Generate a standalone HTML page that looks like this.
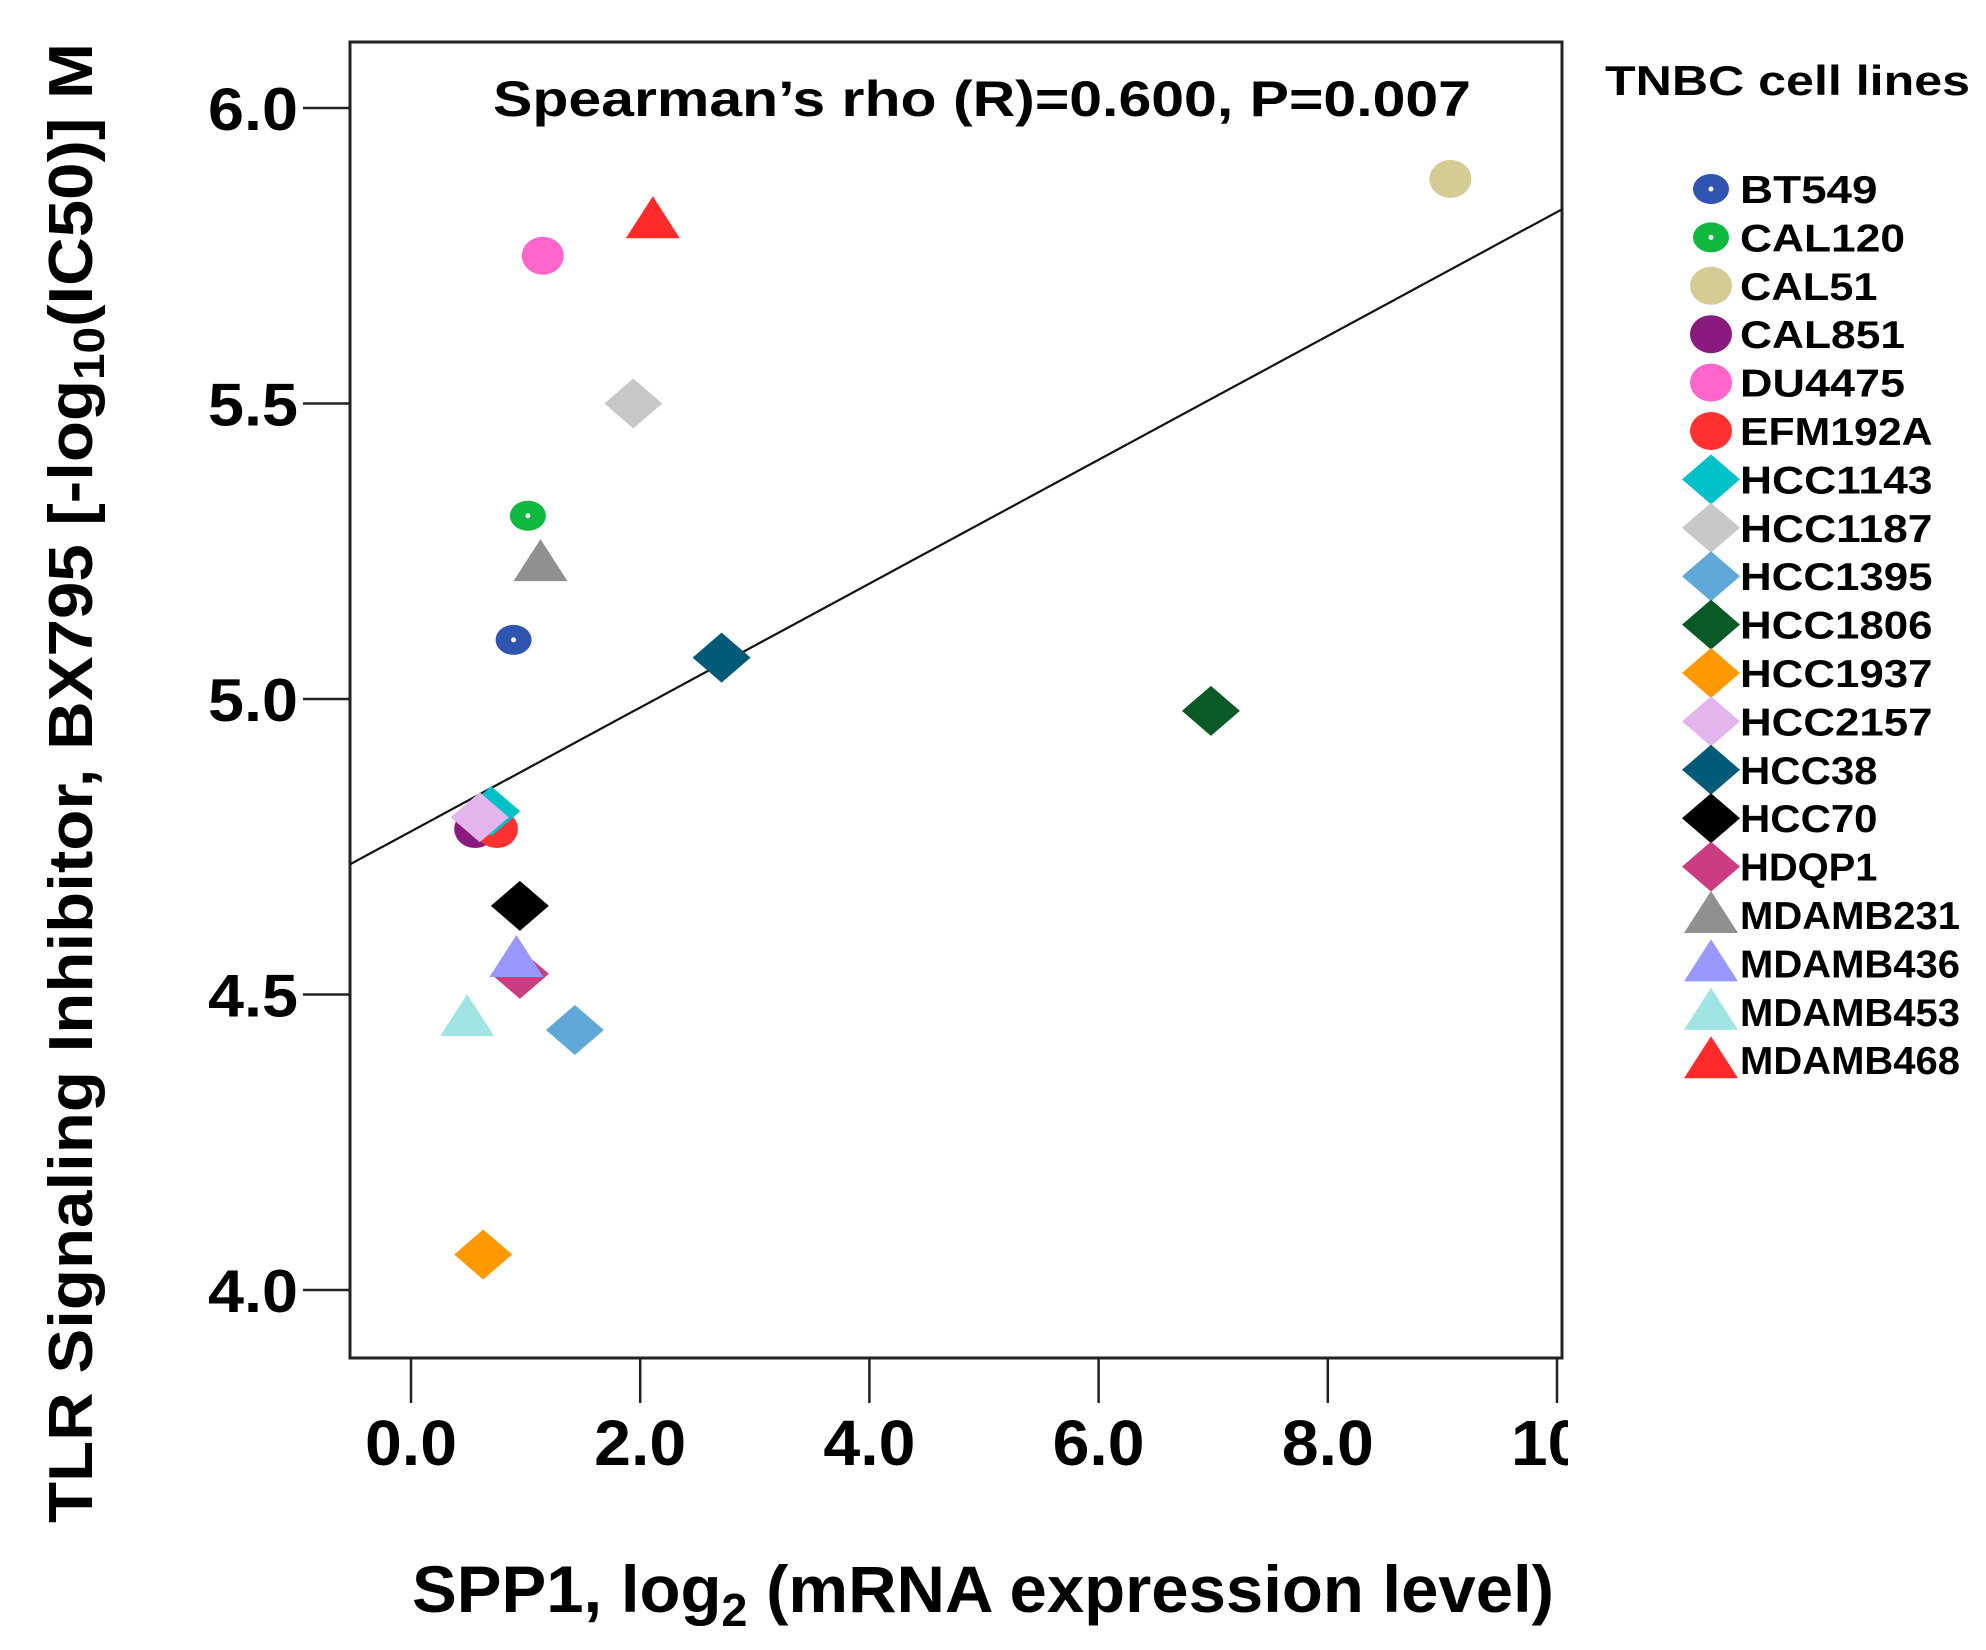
<!DOCTYPE html>
<html><head><meta charset="utf-8"><style>
html,body{margin:0;padding:0;background:#fff;}
svg{display:block;font-family:"Liberation Sans",Arial,sans-serif;font-weight:bold;}
</style></head><body>
<svg id="chart" width="1986" height="1650" viewBox="0 0 1986 1650" xmlns="http://www.w3.org/2000/svg">
<defs><clipPath id="clipR"><rect x="0" y="0" width="1568" height="1650"/></clipPath></defs>
<rect x="0" y="0" width="1986" height="1650" fill="#fff"/>
<g id="plot"></g>
<text transform="translate(92,783) rotate(-90)" text-anchor="middle" font-size="62" textLength="1480" lengthAdjust="spacingAndGlyphs">TLR Signaling Inhibitor, BX795 [-log<tspan font-size="44" dy="12">10</tspan><tspan dy="-12">(IC50)] M</tspan></text>
<text x="412" y="1612" font-size="66" textLength="1142" lengthAdjust="spacingAndGlyphs">SPP1, log<tspan font-size="46" dy="14">2</tspan><tspan dy="-14"> (mRNA expression level)</tspan></text>
<text x="982" y="116" text-anchor="middle" font-size="50" textLength="978" lengthAdjust="spacingAndGlyphs">Spearman’s rho (R)=0.600, P=0.007</text>
<text x="1605" y="95" font-size="42" textLength="365" lengthAdjust="spacingAndGlyphs">TNBC cell lines</text>
<g id="legend"></g>
</svg>
<script>
const names=["BT549","CAL120","CAL51","CAL851","DU4475","EFM192A","HCC1143","HCC1187","HCC1395","HCC1806","HCC1937","HCC2157","HCC38","HCC70","HDQP1","MDAMB231","MDAMB436","MDAMB453","MDAMB468"];
const xVals=[0.895,1.02,9.07,0.56,1.15,0.75,0.70,1.94,1.43,6.98,0.63,0.60,2.71,0.95,0.95,1.13,0.92,0.49,2.11];
const yVals=[5.10,5.31,5.88,4.78,5.75,4.78,4.81,5.50,4.44,4.98,4.06,4.80,5.07,4.65,4.535,5.23,4.56,4.46,5.81];
const shapes=["dot","dot","circle","circle","circle","circle","diamond","diamond","diamond","diamond","diamond","diamond","diamond","diamond","diamond","triangle","triangle","triangle","triangle"];
const colors=["#2f55b0","#10b840","#d4cc94","#8b1a7e","#ff66cc","#ff3030","#00c0c8","#c8c8c8","#60a8d8","#0a5a28","#ff9900","#e4b4ec","#005a78","#000000","#cc3c80","#909090","#9898ff","#a0e4e4","#ff2a2a"];
const xTicks=[0,2,4,6,8,10];
const xTickLabels=["0.0","2.0","4.0","6.0","8.0","10.0"];
const yTicks=[4.0,4.5,5.0,5.5,6.0];
const yTickLabels=["4.0","4.5","5.0","5.5","6.0"];
const fitIntercept=4.776, fitSlope=0.1048;

const NS="http://www.w3.org/2000/svg";
const L=350,R=1562,T=42,B=1358;
const sx=v=>411+v*114.6;
const sy=v=>108+(6-v)*591;
const plot=document.getElementById('plot');
function mk(tag,attrs,parent){const e=document.createElementNS(NS,tag);for(const k in attrs)e.setAttribute(k,attrs[k]);parent.appendChild(e);return e;}

const frame=mk('rect',{x:L,y:T,width:R-L,height:B-T,fill:'none',stroke:'#222','stroke-width':3},plot);



yTicks.forEach((t,i)=>{
  const y=sy(t);
  const ln=mk('line',{x1:303,x2:L,y1:y,y2:y,stroke:'#222','stroke-width':2.5},plot);
  
  
  const tx=mk('text',{x:298,y:y+22,'text-anchor':'end','font-size':60,textLength:90,lengthAdjust:'spacingAndGlyphs'},plot);
  tx.textContent=yTickLabels[i];
  
  
});
const xg=mk('g',{'clip-path':'url(#clipR)'},plot);
xTicks.forEach((t,i)=>{
  const x=sx(t);
  const ln=mk('line',{x1:x,x2:x,y1:B,y2:1403,stroke:'#222','stroke-width':2.5},plot);
  
  
  const tx=mk('text',{x:x-46,y:1465,'font-size':64,textLength:i==5?128:92,lengthAdjust:'spacingAndGlyphs'},xg);
  tx.textContent=xTickLabels[i];
  
  
});
const x0=-0.53,x1=10.05;
const fit=mk('line',{x1:sx(x0),y1:sy(fitIntercept+fitSlope*x0),x2:sx(x1),y2:sy(fitIntercept+fitSlope*x1),stroke:'#111','stroke-width':2.2},plot);



function marker(shape,color,cx,cy,parent){
  let e;
  if(shape==='dot'){
    const g=mk('g',{},parent);
    mk('ellipse',{cx:cx,cy:cy,rx:18,ry:15,fill:color},g);
    mk('circle',{cx:cx,cy:cy,r:2.5,fill:'#fff'},g);
    e=g;
  }else if(shape==='circle'){
    e=mk('ellipse',{cx:cx,cy:cy,rx:21,ry:19,fill:color},parent);
  }else if(shape==='diamond'){
    e=mk('polygon',{points:`${cx-29},${cy} ${cx},${cy-25} ${cx+29},${cy} ${cx},${cy+25}`,fill:color},parent);
  }else{
    e=mk('polygon',{points:`${cx},${cy-24} ${cx+27},${cy+18} ${cx-27},${cy+18}`,fill:color},parent);
  }
  return e;
}
names.forEach((n,i)=>{
  const m=marker(shapes[i],colors[i],sx(xVals[i]),sy(yVals[i]),plot);
  
  
});
const leg=document.getElementById('legend');
names.forEach((n,i)=>{
  const y=189+i*48.4;
  const g=mk('g',{},leg);
  
  
  marker(shapes[i],colors[i],1711,y,g);
  const tx=mk('text',{x:1740,y:y+14,'font-size':39,textLength:n.length*27.5,lengthAdjust:'spacingAndGlyphs'},g);
  tx.textContent=n;
});
</script>
</body></html>
